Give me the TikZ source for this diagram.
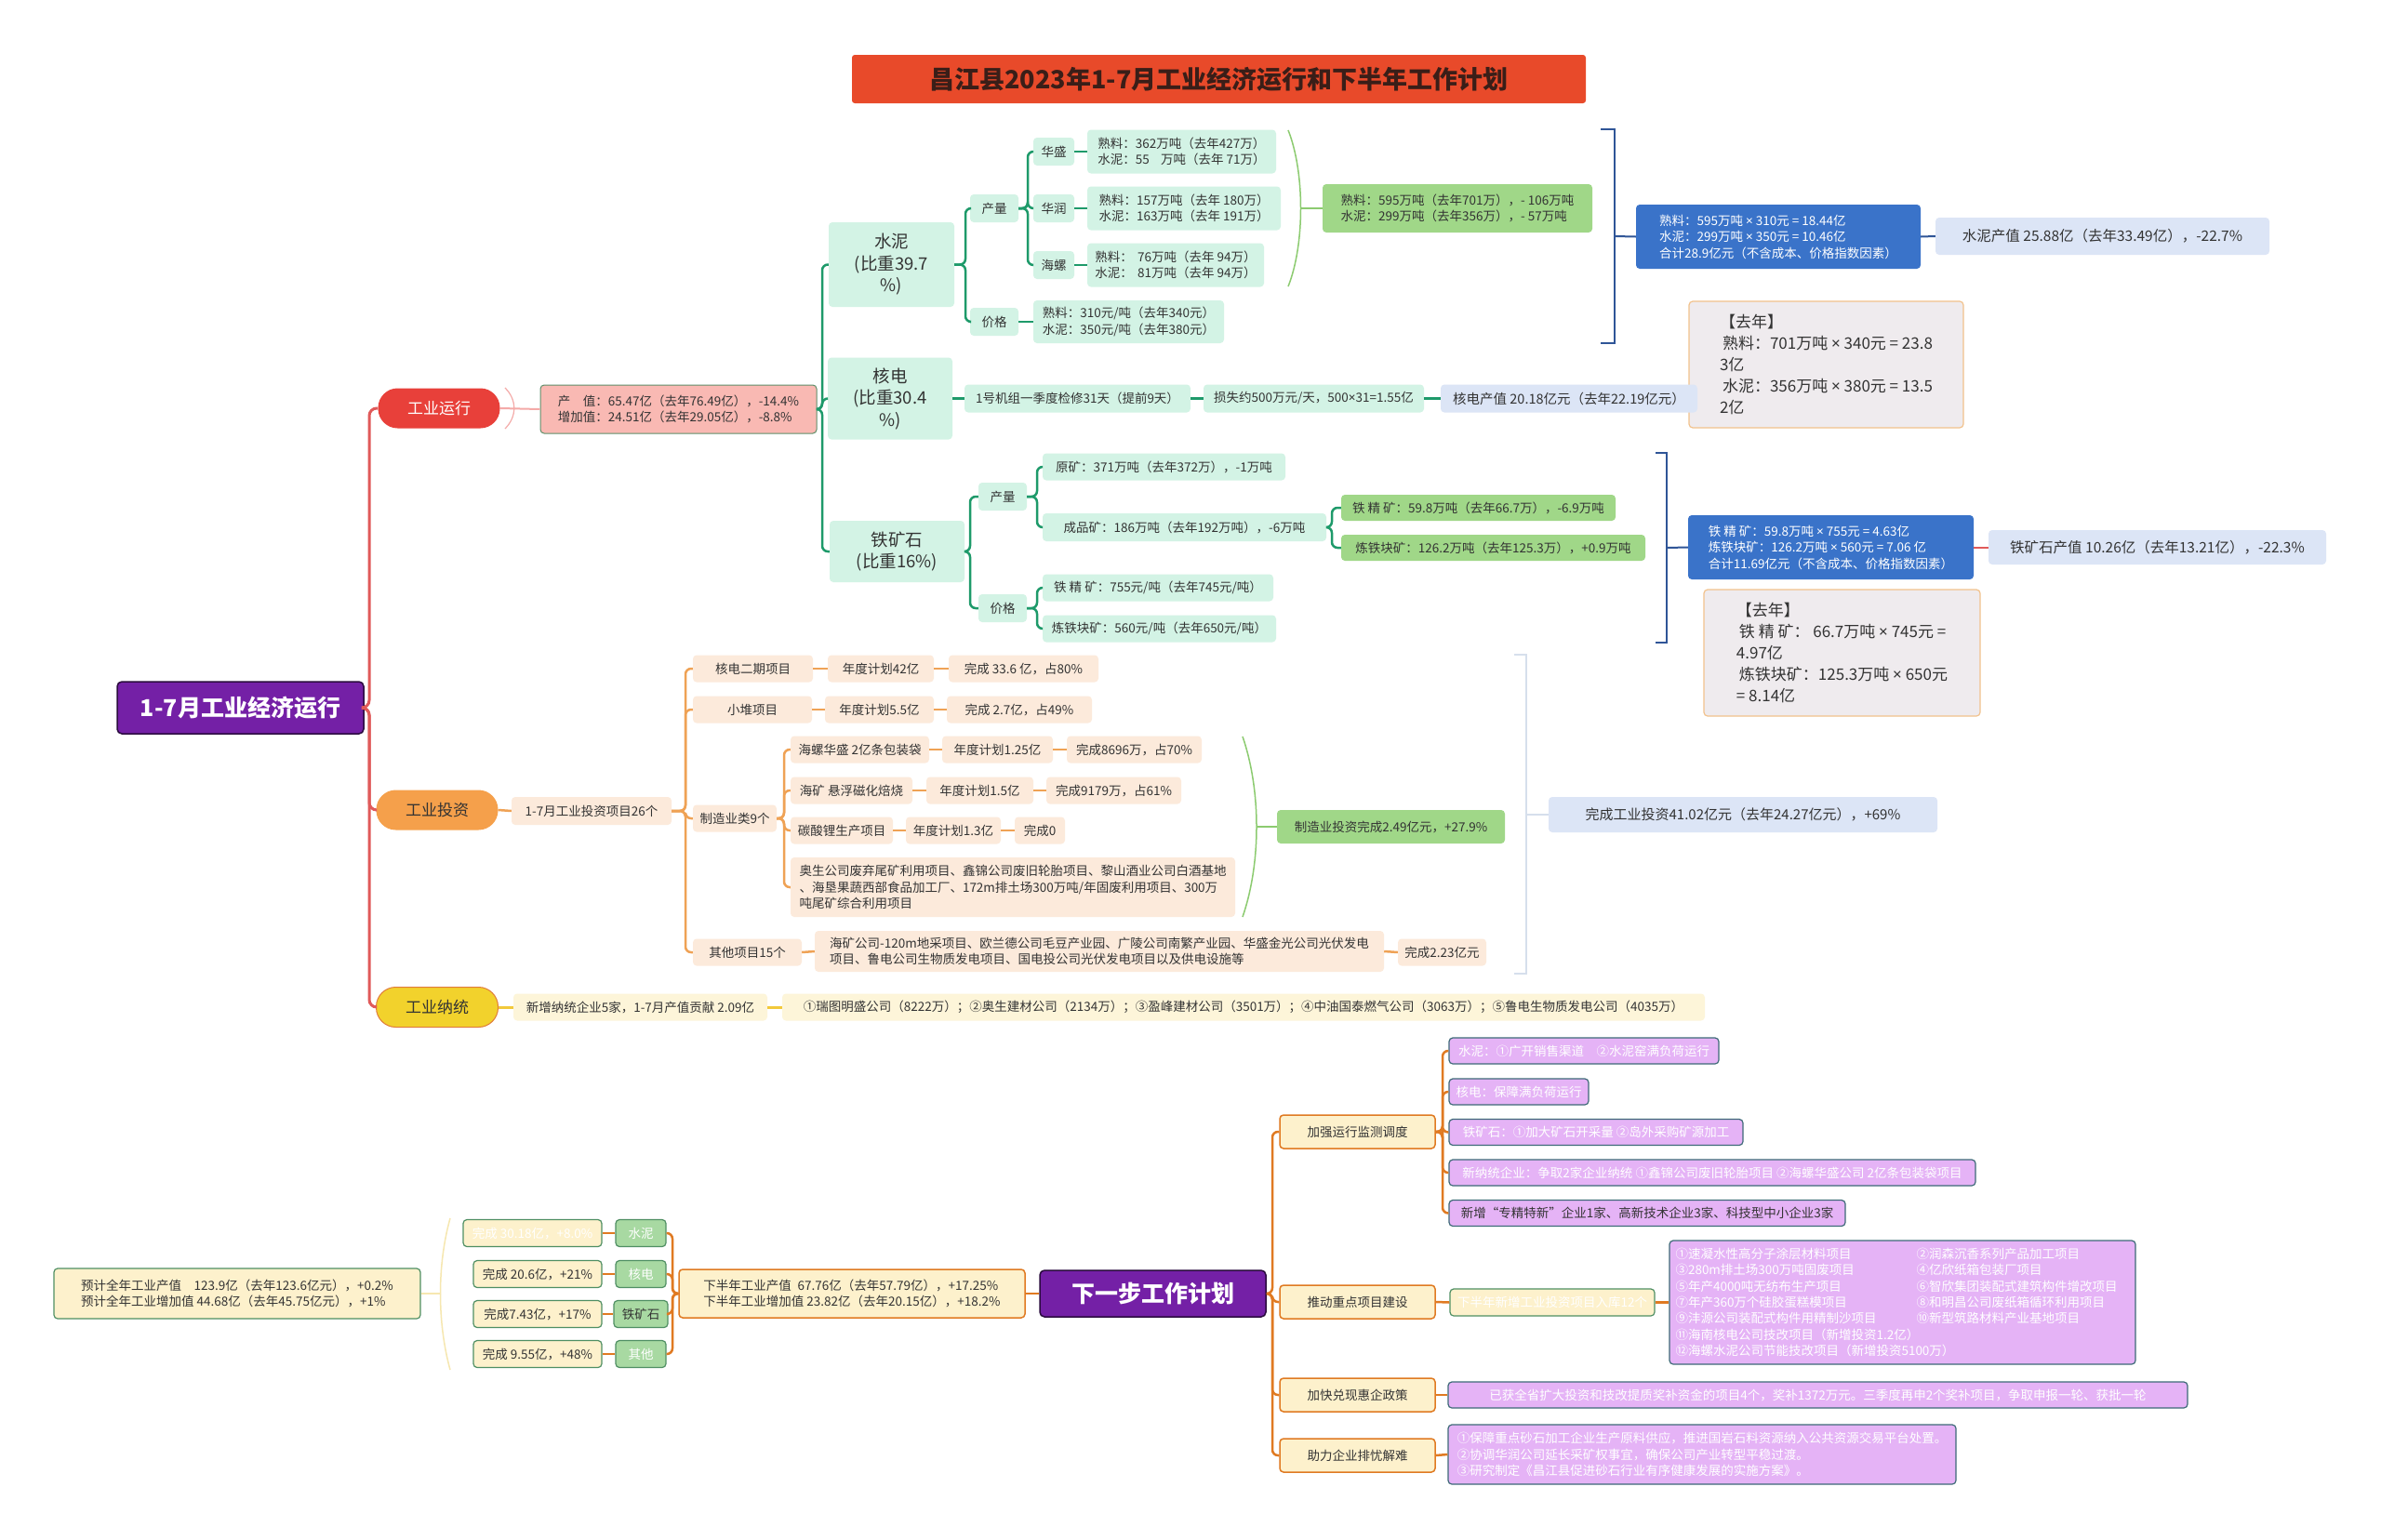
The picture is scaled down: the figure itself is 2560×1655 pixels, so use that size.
\documentclass[tikz,border=0pt]{standalone}
\usepackage{fontspec}
\setmainfont{Noto Sans CJK SC}
\newfontfamily\latf{Noto Sans}
\newcommand\xx{{\latf ×}}
\usetikzlibrary{calc}
\definecolor{titlered}{HTML}{E84A2A}
\definecolor{titletxt}{HTML}{3A1E18}
\definecolor{rootpur}{HTML}{7420A6}
\definecolor{rootbd}{HTML}{2B0B3F}
\definecolor{runred}{HTML}{E8403A}
\definecolor{invor}{HTML}{F5A04B}
\definecolor{taxyel}{HTML}{F2D22C}
\definecolor{ntbd}{HTML}{E07C3A}
\definecolor{pinkbox}{HTML}{F9B9B3}
\definecolor{pinkbd}{HTML}{5E8F6A}
\definecolor{pinkline}{HTML}{F4AAA8}
\definecolor{mint}{HTML}{D3F3E5}
\definecolor{midgreen}{HTML}{A0D788}
\definecolor{bluebox}{HTML}{3A73C9}
\definecolor{lblue}{HTML}{DCE5F6}
\definecolor{greybox}{HTML}{EFEBEE}
\definecolor{greyborder}{HTML}{F2C28C}
\definecolor{peach}{HTML}{FCEADB}
\definecolor{lyel}{HTML}{FDF5D9}
\definecolor{cream}{HTML}{FDF1CC}
\definecolor{lav}{HTML}{E5B3F6}
\definecolor{lavborder}{HTML}{3E6A78}
\definecolor{greenline}{HTML}{1E9A6A}
\definecolor{redline}{HTML}{E05A5A}
\definecolor{orline}{HTML}{EFA255}
\definecolor{yelline}{HTML}{F2C93A}
\definecolor{botline}{HTML}{E07A22}
\definecolor{txt}{HTML}{333333}
\definecolor{navy}{HTML}{2F5597}
\definecolor{lgreen}{HTML}{8CCB70}
\definecolor{gbox}{HTML}{A8D9A2}
\definecolor{gborder}{HTML}{4F8F63}
\definecolor{greyline}{HTML}{D6DFEC}
\definecolor{lyelline}{HTML}{F6E7B0}
\newcommand\fsS{\fontsize{13.5}{17.5}\selectfont}
\newcommand\fsM{\fontsize{17}{23}\selectfont}
\newcommand\fsL{\fontsize{18.5}{23.5}\selectfont}
\newcommand\lnk[4][]{\draw[#1] (#2.east) -- (#2.east -| #3) -- (#3 |- #4.west) -- (#4.west);}
\newcommand\lnkL[4][]{\draw[#1] (#2.west) -- (#2.west -| #3) -- (#3 |- #4.east) -- (#4.east);}
\tikzset{
  box/.style={rounded corners=4pt, inner sep=0pt, text=txt, font=\fsS, align=center},
  mintb/.style={box, fill=mint},
  greenb/.style={box, fill=midgreen},
  blueb/.style={box, fill=bluebox, text=white, align=left},
  lblueb/.style={box, fill=lblue},
  greyb/.style={box, fill=greybox, draw=greyborder, line width=1.2pt, font=\fsM, align=left},
  peachb/.style={box, fill=peach},
  yelb/.style={box, fill=lyel},
  creamb/.style={box, fill=cream, draw=botline, line width=1.5pt},
  creamg/.style={box, fill=cream, draw=gborder, line width=1.2pt},
  gsmall/.style={box, fill=gbox, draw=gborder, line width=1.2pt, text=white},
  lavb/.style={box, fill=lav, draw=lavborder, line width=1.2pt, text=white},
  pill/.style={box, rounded corners=21pt, minimum width=131, minimum height=43, font=\fontsize{17}{20}\selectfont},
  redln/.style={draw=redline, line width=3pt, rounded corners=8pt},
  gln/.style={draw=greenline, line width=2.5pt, rounded corners=6pt},
  oln/.style={draw=orline, line width=2.5pt, rounded corners=6pt},
  bln/.style={draw=botline, line width=2.5pt, rounded corners=6pt},
  yln/.style={draw=yelline, line width=3pt},
  lgln/.style={draw=lgreen, line width=1.5pt},
  navyln/.style={draw=navy, line width=2pt},
  greyln/.style={draw=greyline, line width=2pt},
  pinkln/.style={draw=pinkline, line width=2pt},
}
\begin{document}
\begin{tikzpicture}[x=1pt,y=-1pt]
\fill[white] (0,0) rectangle (2560,1655);
\useasboundingbox (0,0) rectangle (2560,1655);

% ---------- title and roots
\node[box, fill=titlered, minimum width=789, minimum height=52, font=\fontsize{27}{30}\selectfont\bfseries, text=titletxt, rounded corners=3pt] (title) at (1310.5,85) {昌江县2023年1-7月工业经济运行和下半年工作计划};
\node[box, fill=rootpur, draw=rootbd, line width=1.5pt, minimum width=265, minimum height=56, font=\fontsize{25}{28}\selectfont\bfseries, text=white, rounded corners=5pt] (root1) at (258.5,761) {1-7月工业经济运行};
\node[pill, fill=runred, text=white] (yx) at (472,439) {工业运行};
\node[pill, fill=invor] (tzb) at (470,871) {工业投资};
\node[pill, fill=taxyel, draw=ntbd, line width=1pt] (nt) at (470,1083) {工业纳统};

\coordinate (T0) at (397,0);
\lnk[redln]{root1}{T0}{yx}
\lnk[redln]{root1}{T0}{tzb}
\lnk[redln]{root1}{T0}{nt}

% ---------- 工业运行
\node[box, fill=pinkbox, draw=pinkbd, line width=1pt, minimum width=297, minimum height=52, align=left] (zhi) at (729.5,440) {产\hspace{1em}值：65.47亿（去年76.49亿），-14.4\%\\增加值：24.51亿（去年29.05亿），-8.8\%};
\draw[pinkln] (yx.east) -- (zhi.west);
\draw[pinkln, line width=1.2pt] (543,417) .. controls (556,430) and (556,448) .. (543,461);

\node[mintb, font=\fsL, minimum width=135, minimum height=91] (sn) at (958.5,284.5) {水泥\\(比重39.7\\\%)};
\node[mintb, font=\fsL, minimum width=134, minimum height=88] (hd) at (957,428.5) {核电\\(比重30.4\\\%)};
\node[mintb, font=\fsL, minimum width=145, minimum height=66] (tk) at (964.5,593) {铁矿石\\(比重16\%)};
\coordinate (T1) at (884,0);
\lnk[gln]{zhi}{T1}{sn}
\lnk[gln]{zhi}{T1}{hd}
\lnk[gln]{zhi}{T1}{tk}

% cement
\node[mintb, minimum width=52, minimum height=30] (sncl) at (1069,224) {产量};
\node[mintb, minimum width=52, minimum height=30] (snjg) at (1069,346) {价格};
\coordinate (T2) at (1038,0);
\lnk[gln]{sn}{T2}{sncl}
\lnk[gln]{sn}{T2}{snjg}
\node[mintb, minimum width=44, minimum height=30] (hs) at (1133,163) {华盛};
\node[mintb, minimum width=44, minimum height=30] (hr) at (1133,224) {华润};
\node[mintb, minimum width=44, minimum height=30] (hl) at (1133,285) {海螺};
\coordinate (T3) at (1105,0);
\lnk[gln]{sncl}{T3}{hs}
\lnk[gln]{sncl}{T3}{hr}
\lnk[gln]{sncl}{T3}{hl}
\node[mintb, align=left, minimum width=203, minimum height=47] (hsd) at (1270.5,163) {熟料：362万吨（去年427万）\\水泥：55\hspace{0.9em}万吨（去年 71万）};
\node[mintb, align=left, minimum width=208, minimum height=47] (hrd) at (1273,224) {熟料：157万吨（去年 180万）\\水泥：163万吨（去年 191万）};
\node[mintb, align=left, minimum width=190, minimum height=47] (hld) at (1264,285) {熟料：\hspace{0.4em}76万吨（去年 94万）\\水泥：\hspace{0.4em}81万吨（去年 94万）};
\node[mintb, align=left, minimum width=205, minimum height=46] (snjgd) at (1213.5,346) {熟料：310元/吨（去年340元）\\水泥：350元/吨（去年380元）};
\draw[gln] (hs.east) -- (hsd.west);
\draw[gln] (hr.east) -- (hrd.west);
\draw[gln] (hl.east) -- (hld.west);
\draw[gln] (snjg.east) -- (snjgd.west);

\node[greenb, align=left, minimum width=290, minimum height=52] (gs) at (1567,224) {熟料：595万吨（去年701万），- 106万吨\\水泥：299万吨（去年356万），- 57万吨};
\draw[lgln] (1385,140) .. controls (1403,185) and (1403,263) .. (1385,308);
\coordinate (br1) at (1399,224);
\draw[lgln] (br1) -- (gs.west);

\node[blueb, minimum width=306, minimum height=69] (sb) at (1912,254.5) {熟料：595万吨 \xx{} 310元 = 18.44亿\\水泥：299万吨 \xx{} 350元 = 10.46亿\\合计28.9亿元（不含成本、价格指数因素）};
\node[lblueb, font=\fontsize{15.5}{19}\selectfont, minimum width=359, minimum height=40] (sv) at (2260.5,254) {水泥产值 25.88亿（去年33.49亿），-22.7\%};
\draw[navyln] (1721,139) -- (1736,139) -- (1736,369) -- (1721,369);
\coordinate (bb1) at (1736,254);
\draw[navyln] (bb1) -- (sb.west);
\draw[navyln] (sb.east) -- (sv.west);
\node[greyb, minimum width=295, minimum height=136] (sq) at (1963.5,392) {【去年】\\\hspace*{3pt}熟料：701万吨 \xx{} 340元 = 23.8\\3亿\\\hspace*{3pt}水泥：356万吨 \xx{} 380元 = 13.5\\2亿};

% nuclear
\node[mintb, minimum width=243, minimum height=30] (hd1) at (1158.5,428.5) {1号机组一季度检修31天（提前9天）};
\node[mintb, minimum width=237, minimum height=30] (hd2) at (1412.5,428.5) {损失约500万元/天，500\xx{}31=1.55亿};
\node[lblueb, font=\fontsize{14.5}{18}\selectfont, minimum width=276, minimum height=30] (hd3) at (1687,428.5) {核电产值 20.18亿元（去年22.19亿元）};
\draw[gln] (hd.east) -- (hd1.west);
\draw[gln] (hd1.east) -- (hd2.west);
\draw[gln] (hd2.east) -- (hd3.west);

% iron
\node[mintb, minimum width=52, minimum height=30] (tkcl) at (1078,534) {产量};
\node[mintb, minimum width=52, minimum height=30] (tkjg) at (1078,654) {价格};
\coordinate (T4) at (1043,0);
\lnk[gln]{tk}{T4}{tkcl}
\lnk[gln]{tk}{T4}{tkjg}
\node[mintb, minimum width=261, minimum height=29] (ym) at (1251.5,502) {原矿：371万吨（去年372万），-1万吨};
\node[mintb, minimum width=305, minimum height=30] (cpk) at (1273.5,567) {成品矿：186万吨（去年192万吨），-6万吨};
\node[mintb, minimum width=248, minimum height=29] (jk1) at (1245,632) {铁 精 矿：755元/吨（去年745元/吨）};
\node[mintb, minimum width=251, minimum height=29] (jk2) at (1246.5,676) {炼铁块矿：560元/吨（去年650元/吨）};
\coordinate (T5) at (1115,0);
\lnk[gln]{tkcl}{T5}{ym}
\lnk[gln]{tkcl}{T5}{cpk}
\lnk[gln]{tkjg}{T5}{jk1}
\lnk[gln]{tkjg}{T5}{jk2}
\node[greenb, minimum width=295, minimum height=28] (gj1) at (1589.5,546) {铁 精 矿：59.8万吨（去年66.7万），-6.9万吨};
\node[greenb, minimum width=327, minimum height=28] (gj2) at (1605.5,589) {炼铁块矿：126.2万吨（去年125.3万），+0.9万吨};
\coordinate (T6) at (1432,0);
\lnk[gln]{cpk}{T6}{gj1}
\lnk[gln]{cpk}{T6}{gj2}
\draw[navyln] (1780,487) -- (1792,487) -- (1792,691) -- (1780,691);
\node[blueb, minimum width=307, minimum height=69] (tkb) at (1968.5,588.5) {铁 精 矿：59.8万吨 \xx{} 755元 = 4.63亿\\炼铁块矿：126.2万吨 \xx{} 560元 = 7.06 亿\\合计11.69亿元（不含成本、价格指数因素）};
\node[lblueb, font=\fontsize{15.5}{19}\selectfont, minimum width=363, minimum height=37] (tkv) at (2319.5,588.5) {铁矿石产值 10.26亿（去年13.21亿），-22.3\%};
\coordinate (bb2) at (1792,589);
\draw[navyln] (bb2) -- (tkb.west);
\draw[draw=redline, line width=2pt] (tkb.east) -- (tkv.west);
\node[greyb, minimum width=297, minimum height=136] (tkq) at (1980.5,702) {【去年】\\\hspace*{3pt}铁 精 矿： 66.7万吨 \xx{} 745元 =\\4.97亿\\\hspace*{3pt}炼铁块矿：125.3万吨 \xx{} 650元\\= 8.14亿};

% ---------- 工业投资
\node[peachb, minimum width=172, minimum height=30] (tz1) at (636,872) {1-7月工业投资项目26个};
\draw[oln] (tzb.east) -- (tz1.west);
\node[peachb, minimum width=129, minimum height=29] (ta) at (809.5,719) {核电二期项目};
\node[peachb, minimum width=114, minimum height=29] (ta2) at (947,719) {年度计划42亿};
\node[peachb, minimum width=161, minimum height=29] (ta3) at (1100.5,719) {完成 33.6 亿，占80\%};
\node[peachb, minimum width=128, minimum height=29] (tb) at (809,763) {小堆项目};
\node[peachb, minimum width=117, minimum height=29] (tb2) at (945.5,763) {年度计划5.5亿};
\node[peachb, minimum width=156, minimum height=29] (tb3) at (1096,763) {完成 2.7亿，占49\%};
\node[peachb, minimum width=90, minimum height=29] (tc) at (790,880) {制造业类9个};
\node[peachb, minimum width=117, minimum height=29] (td) at (803.5,1024) {其他项目15个};
\coordinate (T7) at (737,0);
\lnk[oln]{tz1}{T7}{ta}
\lnk[oln]{tz1}{T7}{tb}
\lnk[oln]{tz1}{T7}{tc}
\lnk[oln]{tz1}{T7}{td}
\draw[oln] (ta.east) -- (ta2.west);
\draw[oln] (ta2.east) -- (ta3.west);
\draw[oln] (tb.east) -- (tb2.west);
\draw[oln] (tb2.east) -- (tb3.west);

\node[peachb, minimum width=149, minimum height=29] (c1) at (924.5,806) {海螺华盛 2亿条包装袋};
\node[peachb, minimum width=119, minimum height=29] (c1b) at (1072.5,806) {年度计划1.25亿};
\node[peachb, minimum width=145, minimum height=29] (c1c) at (1219.5,806) {完成8696万，占70\%};
\node[peachb, minimum width=131, minimum height=29] (c2) at (915.5,850) {海矿 悬浮磁化焙烧};
\node[peachb, minimum width=115, minimum height=29] (c2b) at (1053.5,850) {年度计划1.5亿};
\node[peachb, minimum width=145, minimum height=29] (c2c) at (1197.5,850) {完成9179万，占61\%};
\node[peachb, minimum width=110, minimum height=29] (c3) at (905,893) {碳酸锂生产项目};
\node[peachb, minimum width=102, minimum height=29] (c3b) at (1025,893) {年度计划1.3亿};
\node[peachb, minimum width=54, minimum height=29] (c3c) at (1118,893) {完成0};
\node[peachb, align=left, minimum width=478, minimum height=64] (c4) at (1089,954) {奥生公司废弃尾矿利用项目、鑫锦公司废旧轮胎项目、黎山酒业公司白酒基地\\、海垦果蔬西部食品加工厂、172m排土场300万吨/年固废利用项目、300万\\吨尾矿综合利用项目};
\coordinate (T8) at (843,0);
\lnk[oln]{tc}{T8}{c1}
\lnk[oln]{tc}{T8}{c2}
\lnk[oln]{tc}{T8}{c3}
\lnk[oln]{tc}{T8}{c4}
\draw[oln] (c1.east) -- (c1b.west);
\draw[oln] (c1b.east) -- (c1c.west);
\draw[oln] (c2.east) -- (c2b.west);
\draw[oln] (c2b.east) -- (c2c.west);
\draw[oln] (c3.east) -- (c3b.west);
\draw[oln] (c3b.east) -- (c3c.west);

\node[peachb, align=left, minimum width=612, minimum height=44] (d2) at (1182,1023) {海矿公司-120m地采项目、欧兰德公司毛豆产业园、广陵公司南繁产业园、华盛金光公司光伏发电\\项目、鲁电公司生物质发电项目、国电投公司光伏发电项目以及供电设施等};
\node[peachb, minimum width=95, minimum height=29] (d3) at (1550.5,1024) {完成2.23亿元};
\draw[oln] (td.east) -- (d2.west);
\draw[oln] (d2.east) -- (d3.west);

\draw[lgln] (1336,792) .. controls (1356,850) and (1356,928) .. (1336,986);
\node[greenb, minimum width=245, minimum height=36] (mi) at (1495.5,889) {制造业投资完成2.49亿元，+27.9\%};
\coordinate (br2) at (1351,889);
\draw[lgln] (br2) -- (mi.west);
\draw[greyln] (1628,704) -- (1641,704) -- (1641,1047) -- (1628,1047);
\node[lblueb, font=\fontsize{15}{19}\selectfont, minimum width=418, minimum height=38] (ti) at (1874,876) {完成工业投资41.02亿元（去年24.27亿元），+69\%};
\coordinate (bb3) at (1641,876);
\draw[greyln] (bb3) -- (ti.west);

% ---------- 工业纳统
\node[yelb, minimum width=273, minimum height=29] (nt1) at (688.5,1083) {新增纳统企业5家，1-7月产值贡献 2.09亿};
\node[yelb, minimum width=992, minimum height=29] (nt2) at (1337,1083) {①瑞图明盛公司（8222万）；②奥生建材公司（2134万）；③盈峰建材公司（3501万）；④中油国泰燃气公司（3063万）；⑤鲁电生物质发电公司（4035万）};
\draw[yln] (nt.east) -- (nt1.west);
\draw[yln] (nt1.east) -- (nt2.west);

% ---------- 下一步工作计划
\node[box, fill=rootpur, draw=rootbd, line width=1.5pt, minimum width=243, minimum height=50, font=\fontsize{25}{28}\selectfont\bfseries, text=white, rounded corners=5pt] (root2) at (1239.5,1391) {下一步工作计划};
\node[creamb, align=left, minimum width=372, minimum height=52] (xb) at (916,1391) {下半年工业产值\hspace{0.5em}67.76亿（去年57.79亿），+17.25\%\\下半年工业增加值 23.82亿（去年20.15亿），+18.2\%};
\draw[bln] (root2.west) -- (xb.east);
\node[gsmall, minimum width=54, minimum height=29] (g1) at (689,1326) {水泥};
\node[gsmall, minimum width=54, minimum height=29] (g2) at (689,1370) {核电};
\node[gsmall, text=txt, minimum width=58, minimum height=29] (g3) at (689,1413) {铁矿石};
\node[gsmall, minimum width=54, minimum height=29] (g4) at (689,1456) {其他};
\coordinate (T9) at (723,0);
\lnkL[bln]{xb}{T9}{g1}
\lnkL[bln]{xb}{T9}{g2}
\lnkL[bln]{xb}{T9}{g3}
\lnkL[bln]{xb}{T9}{g4}
\node[creamg, text=white, minimum width=149, minimum height=29] (l1) at (572.5,1326) {完成 30.18亿，+8.0\%};
\node[creamg, minimum width=138, minimum height=29] (l2) at (578,1370) {完成 20.6亿，+21\%};
\node[creamg, minimum width=138, minimum height=29] (l3) at (578,1413) {完成7.43亿，+17\%};
\node[creamg, minimum width=138, minimum height=29] (l4) at (578,1456) {完成 9.55亿，+48\%};
\draw[bln] (g1.west) -- (l1.east);
\draw[bln] (g2.west) -- (l2.east);
\draw[bln] (g3.west) -- (l3.east);
\draw[bln] (g4.west) -- (l4.east);
\draw[draw=lyelline, line width=1.5pt] (484,1310) .. controls (470,1360) and (470,1422) .. (484,1473);
\node[creamg, align=left, minimum width=394, minimum height=54] (yj) at (255,1391) {预计全年工业产值\hspace{1em}123.9亿（去年123.6亿元），+0.2\%\\预计全年工业增加值 44.68亿（去年45.75亿元），+1\%};
\coordinate (br3) at (474,1391);
\draw[draw=lyelline, line width=1.5pt] (br3) -- (yj.east);

\node[creamb, minimum width=167, minimum height=36] (r1) at (1459.5,1217) {加强运行监测调度};
\node[creamb, minimum width=167, minimum height=36] (r2) at (1459.5,1400) {推动重点项目建设};
\node[creamb, minimum width=167, minimum height=36] (r3) at (1459.5,1500) {加快兑现惠企政策};
\node[creamb, minimum width=167, minimum height=36] (r4) at (1459.5,1565) {助力企业排忧解难};
\coordinate (T10) at (1368,0);
\lnk[bln]{root2}{T10}{r1}
\lnk[bln]{root2}{T10}{r2}
\lnk[bln]{root2}{T10}{r3}
\lnk[bln]{root2}{T10}{r4}

\node[lavb, minimum width=290, minimum height=28] (p1) at (1703,1130) {水泥：①广开销售渠道\hspace{1em}②水泥窑满负荷运行};
\node[lavb, minimum width=150, minimum height=28] (p2) at (1633,1174) {核电：保障满负荷运行};
\node[lavb, minimum width=316, minimum height=28] (p3) at (1716,1217.5) {铁矿石：①加大矿石开采量 ②岛外采购矿源加工};
\node[lavb, minimum width=566, minimum height=28] (p4) at (1841,1261) {新纳统企业：争取2家企业纳统 ①鑫锦公司废旧轮胎项目 ②海螺华盛公司 2亿条包装袋项目};
\node[lavb, text=txt, minimum width=426, minimum height=28] (p5) at (1771,1304.5) {新增“专精特新”企业1家、高新技术企业3家、科技型中小企业3家};
\coordinate (T11) at (1551,0);
\lnk[bln]{r1}{T11}{p1}
\lnk[bln]{r1}{T11}{p2}
\lnk[bln]{r1}{T11}{p3}
\lnk[bln]{r1}{T11}{p4}
\lnk[bln]{r1}{T11}{p5}

\node[creamg, text=white, minimum width=220, minimum height=29] (q1) at (1669,1400.5) {下半年新增工业投资项目入库12个};
\node[lavb, font=\fontsize{13.5}{17.3}\selectfont, text width=488, align=left, minimum width=501, minimum height=133] (q2) at (2045.5,1400.5) {\makebox[259pt][l]{①速凝水性高分子涂层材料项目}②润森沉香系列产品加工项目\\\makebox[259pt][l]{③280m排土场300万吨固废项目}④亿欣纸箱包装厂项目\\\makebox[259pt][l]{⑤年产4000吨无纺布生产项目}⑥智欣集团装配式建筑构件增改项目\\\makebox[259pt][l]{⑦年产360万个硅胶蛋糕模项目}⑧和明昌公司废纸箱循环利用项目\\\makebox[259pt][l]{⑨沣源公司装配式构件用精制沙项目}⑩新型筑路材料产业基地项目\\⑪海南核电公司技改项目（新增投资1.2亿）\\⑫海螺水泥公司节能技改项目（新增投资5100万）};
\draw[bln] (r2.east) -- (q1.west);
\draw[bln] (q1.east) -- (q2.west);
\node[lavb, minimum width=795, minimum height=28] (q3) at (1954.5,1500) {已获全省扩大投资和技改提质奖补资金的项目4个，奖补1372万元。三季度再申2个奖补项目，争取申报一轮、获批一轮};
\draw[bln] (r3.east) -- (q3.west);
\node[lavb, align=left, minimum width=546, minimum height=64] (q4) at (1830,1564) {①保障重点砂石加工企业生产原料供应，推进国岩石料资源纳入公共资源交易平台处置。\\②协调华润公司延长采矿权事宜，确保公司产业转型平稳过渡。\\③研究制定《昌江县促进砂石行业有序健康发展的实施方案》。};
\draw[bln] (r4.east) -- (q4.west);
\end{tikzpicture}
\end{document}
